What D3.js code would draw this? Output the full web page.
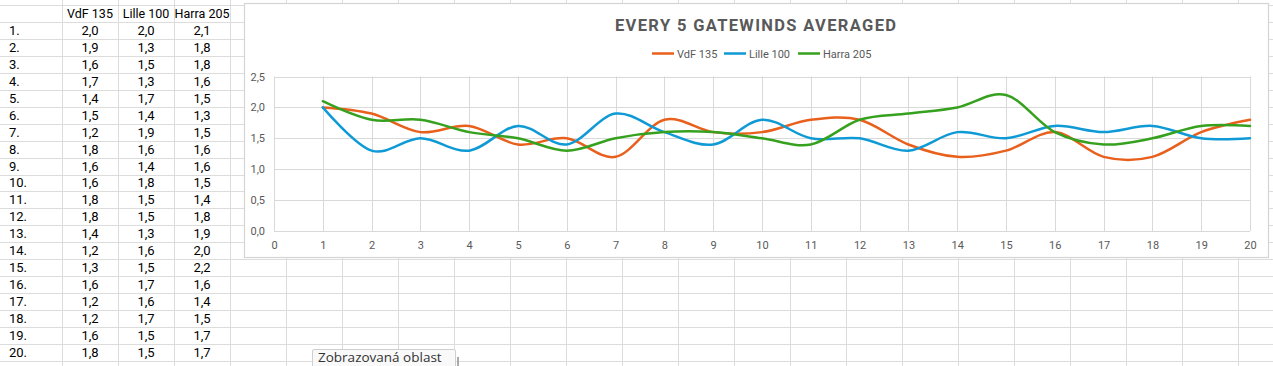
<!DOCTYPE html>
<html><head><meta charset="utf-8">
<script src="https://cdn.jsdelivr.net/npm/d3@7"></script>
<style>
html,body{margin:0;padding:0;background:#fff;overflow:hidden;}
svg{display:block;}
</style></head>
<body>
<svg id="c" width="1273" height="366"></svg>
<script>
// ---- data ----
const seriesNames = ["VdF 135", "Lille 100", "Harra 205"];
const rowLabels = ["1.","2.","3.","4.","5.","6.","7.","8.","9.","10.","11.","12.","13.","14.","15.","16.","17.","18.","19.","20."];
const xValues = [1,2,3,4,5,6,7,8,9,10,11,12,13,14,15,16,17,18,19,20];
const vdf   = [2.0,1.9,1.6,1.7,1.4,1.5,1.2,1.8,1.6,1.6,1.8,1.8,1.4,1.2,1.3,1.6,1.2,1.2,1.6,1.8];
const lille = [2.0,1.3,1.5,1.3,1.7,1.4,1.9,1.6,1.4,1.8,1.5,1.5,1.3,1.6,1.5,1.7,1.6,1.7,1.5,1.5];
const harra = [2.1,1.8,1.8,1.6,1.5,1.3,1.5,1.6,1.6,1.5,1.4,1.8,1.9,2.0,2.2,1.6,1.4,1.5,1.7,1.7];
const xTicks = [0,1,2,3,4,5,6,7,8,9,10,11,12,13,14,15,16,17,18,19,20];
const yTicks = [0,0.5,1.0,1.5,2.0,2.5];
const title = "EVERY 5 GATEWINDS AVERAGED";
const tooltipText = "Zobrazovaná oblast";
const colors = ["#e8601c", "#0f9ad6", "#36a11f"];
const allSeries = [vdf, lille, harra];

const svg = d3.select("#c");
const loc = d3.formatLocale({decimal: ",", thousands: " ", grouping: [3], currency: ["", ""]});
const f1 = loc.format(".1f");

// ---- spreadsheet grid ----
const rowH = 16.95, row0 = 5, colW = 56;
const g0 = svg.append("g");
for (let k = -1; k < 23; k++) {
  const yy = Math.round(row0 + k * rowH) + 0.5;
  g0.append("line").attr("x1", 0).attr("x2", 1273).attr("y1", yy).attr("y2", yy)
    .attr("stroke", "#dcdcdc").attr("stroke-width", 1);
}
for (let k = 0; k < 23; k++) {
  const xx = Math.round(62 + k * colW) + 0.5;
  g0.append("line").attr("x1", xx).attr("x2", xx).attr("y1", 0).attr("y2", 366)
    .attr("stroke", "#dcdcdc").attr("stroke-width", 1);
}

// ---- table ----
const tbl = svg.append("g").attr("font-family", "Roboto, 'Liberation Sans', sans-serif").attr("fill", "#000");
const colCenters = [90, 146, 202];
seriesNames.forEach((n, j) => {
  tbl.append("text").attr("x", colCenters[j]).attr("y", row0 + rowH / 2 + 4.5)
    .attr("text-anchor", "middle").attr("font-size", 12.5).text(n);
});
rowLabels.forEach((lab, i) => {
  const yc = row0 + rowH * (i + 1) + rowH / 2 + 4.5;
  tbl.append("text").attr("x", 9).attr("y", yc).attr("font-size", 13).text(lab);
  allSeries.forEach((s, j) => {
    tbl.append("text").attr("x", colCenters[j]).attr("y", yc)
      .attr("text-anchor", "middle").attr("font-size", 13).text(f1(s[i]));
  });
});

// ---- chart box ----
svg.append("rect").attr("x", 244.5).attr("y", 3.5).attr("width", 1024).attr("height", 254)
  .attr("fill", "#fff").attr("stroke", "#d4d4d4").attr("stroke-width", 1.2);

const x = d3.scaleLinear().domain([0, 20]).range([274, 1250]);
const y = d3.scaleLinear().domain([0, 2.5]).range([231, 76.5]);

const grid = svg.append("g");
grid.selectAll("line.v").data(xTicks).join("line")
  .attr("x1", d => Math.round(x(d)) + 0.5).attr("x2", d => Math.round(x(d)) + 0.5)
  .attr("y1", y(2.5)).attr("y2", y(0)).attr("stroke", "#d9d9d9").attr("stroke-width", 1);
grid.selectAll("line.h").data(yTicks).join("line")
  .attr("x1", x(0)).attr("x2", x(20))
  .attr("y1", d => Math.round(y(d)) + 0.5).attr("y2", d => Math.round(y(d)) + 0.5)
  .attr("stroke", "#d9d9d9").attr("stroke-width", 1);

// axes labels via d3 axes
const xAxis = d3.axisBottom(x).tickValues(xTicks).tickSize(0).tickPadding(10).tickFormat(d3.format("d"));
const gx = svg.append("g").attr("transform", `translate(0,${y(0)})`).call(xAxis);
gx.select(".domain").remove();
gx.selectAll("text").attr("font-family", "Roboto, sans-serif").attr("font-size", 11).attr("fill", "#595959");

const yAxis = d3.axisLeft(y).tickValues(yTicks).tickSize(0).tickPadding(9).tickFormat(f1);
const gy = svg.append("g").attr("transform", `translate(${x(0)},0)`).call(yAxis);
gy.select(".domain").remove();
gy.selectAll("text").attr("font-family", "Roboto, sans-serif").attr("font-size", 11).attr("fill", "#595959");

// ---- lines ----
const line = d3.line().x((d, i) => x(xValues[i])).y(d => y(d)).curve(d3.curveCatmullRom.alpha(0));
allSeries.forEach((s, j) => {
  svg.append("path").datum(s).attr("d", line).attr("fill", "none")
    .attr("stroke", colors[j]).attr("stroke-width", 2.5).attr("stroke-linejoin", "round").attr("stroke-linecap", "round");
});

// ---- title ----
svg.append("text").attr("x", 755.5).attr("y", 30.5).attr("text-anchor", "middle")
  .attr("font-family", "Roboto, sans-serif").attr("font-weight", "bold").attr("font-size", 16.5)
  .attr("fill", "#595959").attr("textLength", 281).attr("lengthAdjust", "spacing").text(title);

// ---- legend ----
const legX = [652, 724, 798];
const lg = svg.append("g").attr("font-family", "Roboto, sans-serif").attr("font-size", 11).attr("fill", "#595959");
seriesNames.forEach((n, j) => {
  lg.append("line").attr("x1", legX[j]).attr("x2", legX[j] + 22).attr("y1", 53.5).attr("y2", 53.5)
    .attr("stroke", colors[j]).attr("stroke-width", 2.5);
  lg.append("text").attr("x", legX[j] + 25).attr("y", 57.5).text(n);
});

// ---- tooltip ----
const tt = svg.append("g");
tt.append("rect").attr("x", 312.5).attr("y", 349.5).attr("width", 143).attr("height", 24)
  .attr("fill", "#f9f9f9").attr("stroke", "#cfcfcf").attr("rx", 1.5);
tt.append("text").attr("x", 318).attr("y", 362).attr("font-family", "'Open Sans', sans-serif")
  .attr("font-size", 13.5).attr("fill", "#333").text(tooltipText);
tt.append("rect").attr("x", 457).attr("y", 357).attr("width", 2).attr("height", 9).attr("fill", "#aaa");
</script>
</body></html>
